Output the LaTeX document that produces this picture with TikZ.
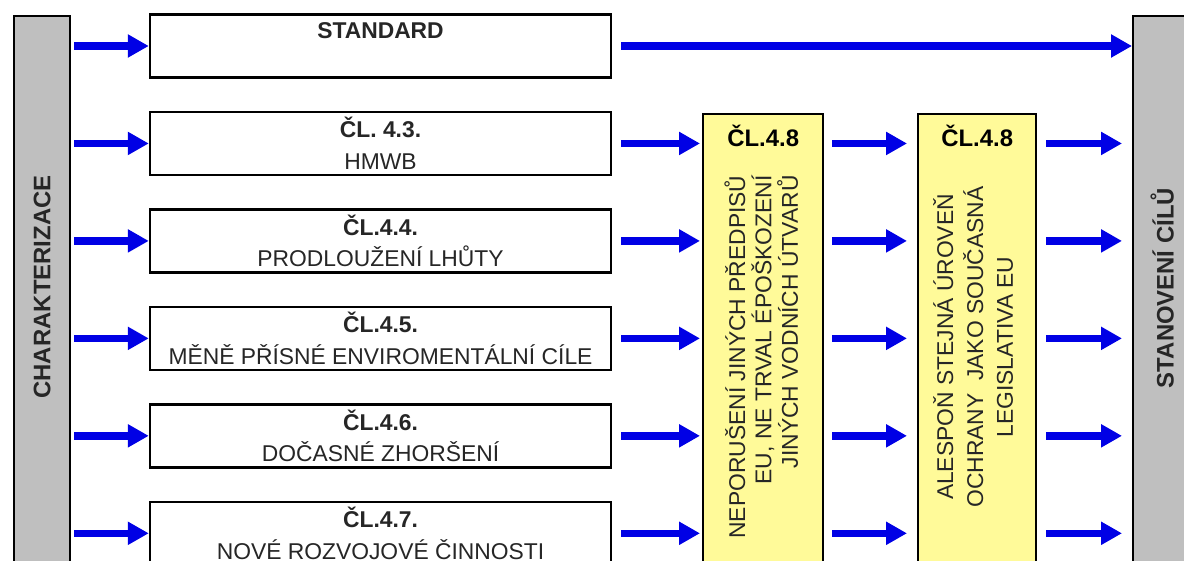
\documentclass[tikz,border=0pt]{standalone}
\usepackage{fontspec}
\setmainfont{Liberation Sans}
\usepackage{tikz}
\usetikzlibrary{arrows.meta,positioning}

\begin{document}
\begin{tikzpicture}[
    node distance=0.64cm and 1cm,
    box/.style={rectangle, draw, line width=1.4pt, fill=white, minimum width=9.22cm, minimum height=1.26cm, inner sep=0pt, align=center, font=\fontsize{13}{18}\selectfont, text=black!85},
    greybar/.style={rectangle, draw, line width=1.4pt, fill=black!25, inner sep=0pt, anchor=north west},
    yellowbar/.style={rectangle, draw, line width=1.4pt, fill=yellow!40, inner sep=0pt, anchor=north west, minimum height=9.4cm},
    bartext/.style={rotate=90, font=\fontsize{13.6}{16}\selectfont\bfseries, text=black!85},
    vtext/.style={rotate=90, font=\fontsize{13}{15}\selectfont, text=black!85},
    arrow/.style={-{Triangle[length=4.2mm, width=4.4mm]}, line width=4.2pt, color=blue!90!black}
]
    \useasboundingbox (0,0) rectangle (23.68,11.2);
    \clip (0,0) rectangle (23.68,11.2);

    % Side bars
    \node[greybar, minimum width=1.12cm, minimum height=11.4cm] (charbar) at (0.26,10.9) {};
    \node[greybar, minimum width=1.16cm, minimum height=11.4cm] (goalbar) at (22.64,10.9) {};
    \node[bartext] (chartext) at ([yshift=-5.44cm]charbar.north) {CHARAKTERIZACE};
    \node[bartext] (goaltext) at ([yshift=-5.46cm]goalbar.north) {STANOVENÍ CÍLŮ};

    % Nodes
    \node[box] (std) at (7.61,10.28) {\textbf{STANDARD}\\\phantom{X}};
    \node[box, below=of std] (cl43) {\textbf{ČL. 4.3.}\\HMWB};
    \node[box, below=of cl43] (cl44) {\textbf{ČL.4.4.}\\PRODLOUŽENÍ LHŮTY};
    \node[box, below=of cl44] (cl45) {\textbf{ČL.4.5.}\\MĚNĚ PŘÍSNÉ ENVIROMENTÁLNÍ CÍLE};
    \node[box, below=of cl45] (cl46) {\textbf{ČL.4.6.}\\DOČASNÉ ZHORŠENÍ};
    \node[box, below=of cl46] (cl47) {\textbf{ČL.4.7.}\\NOVÉ ROZVOJOVÉ ČINNOSTI};

    % Article 4.8 columns
    \node[yellowbar, minimum width=2.4cm] (cla) at (14.04,8.94) {};
    \node[yellowbar, minimum width=2.36cm] (clb) at (18.34,8.94) {};
    \node[anchor=north, font=\fontsize{13.6}{16}\selectfont\bfseries] (clatitle) at ([yshift=-0.12cm]cla.north) {ČL.4.8};
    \node[anchor=north, font=\fontsize{13.6}{16}\selectfont\bfseries] (clbtitle) at ([yshift=-0.12cm]clb.north) {ČL.4.8};
    \node[vtext, align=right] (clatext) at ([xshift=-0.04cm, yshift=-4.88cm]cla.north) {NEPORUŠENÍ JINÝCH PŘEDPISŮ\\EU, NE TRVAL ÉPOŠKOZENÍ\\JINÝCH VODNÍCH ÚTVARŮ};
    \node[vtext, align=center, font=\fontsize{13}{17}\selectfont] (clbtext) at ([xshift=-0.08cm, yshift=-4.68cm]clb.north) {ALESPOŇ STEJNÁ ÚROVEŇ\\OCHRANY~ JAKO SOUČASNÁ\\LEGISLATIVA EU};

    % Arrows
    \draw[arrow, shorten <=0.06cm] (charbar.east |- std.west) -- (std.west);
    \draw[arrow, shorten <=0.06cm] (charbar.east |- cl43.west) -- (cl43.west);
    \draw[arrow, shorten <=0.06cm] (charbar.east |- cl44.west) -- (cl44.west);
    \draw[arrow, shorten <=0.06cm] (charbar.east |- cl45.west) -- (cl45.west);
    \draw[arrow, shorten <=0.06cm] (charbar.east |- cl46.west) -- (cl46.west);
    \draw[arrow, shorten <=0.06cm] (charbar.east |- cl47.west) -- (cl47.west);

    \draw[arrow, shorten <=0.18cm] (std.east) -- (goalbar.west |- std.east);

    \draw[arrow, shorten <=0.18cm, shorten >=0.04cm] (cl43.east) -- (cla.west |- cl43.east);
    \draw[arrow, shorten <=0.18cm, shorten >=0.04cm] (cl44.east) -- (cla.west |- cl44.east);
    \draw[arrow, shorten <=0.18cm, shorten >=0.04cm] (cl45.east) -- (cla.west |- cl45.east);
    \draw[arrow, shorten <=0.18cm, shorten >=0.04cm] (cl46.east) -- (cla.west |- cl46.east);
    \draw[arrow, shorten <=0.18cm, shorten >=0.04cm] (cl47.east) -- (cla.west |- cl47.east);

    \draw[arrow, shorten <=0.16cm, shorten >=0.2cm] (cla.east |- cl43.east) -- (clb.west |- cl43.east);
    \draw[arrow, shorten <=0.16cm, shorten >=0.2cm] (cla.east |- cl44.east) -- (clb.west |- cl44.east);
    \draw[arrow, shorten <=0.16cm, shorten >=0.2cm] (cla.east |- cl45.east) -- (clb.west |- cl45.east);
    \draw[arrow, shorten <=0.16cm, shorten >=0.2cm] (cla.east |- cl46.east) -- (clb.west |- cl46.east);
    \draw[arrow, shorten <=0.16cm, shorten >=0.2cm] (cla.east |- cl47.east) -- (clb.west |- cl47.east);

    \draw[arrow, shorten <=0.18cm, shorten >=0.2cm] (clb.east |- cl43.east) -- (goalbar.west |- cl43.east);
    \draw[arrow, shorten <=0.18cm, shorten >=0.2cm] (clb.east |- cl44.east) -- (goalbar.west |- cl44.east);
    \draw[arrow, shorten <=0.18cm, shorten >=0.2cm] (clb.east |- cl45.east) -- (goalbar.west |- cl45.east);
    \draw[arrow, shorten <=0.18cm, shorten >=0.2cm] (clb.east |- cl46.east) -- (goalbar.west |- cl46.east);
    \draw[arrow, shorten <=0.18cm, shorten >=0.2cm] (clb.east |- cl47.east) -- (goalbar.west |- cl47.east);

\end{tikzpicture}
\end{document}
